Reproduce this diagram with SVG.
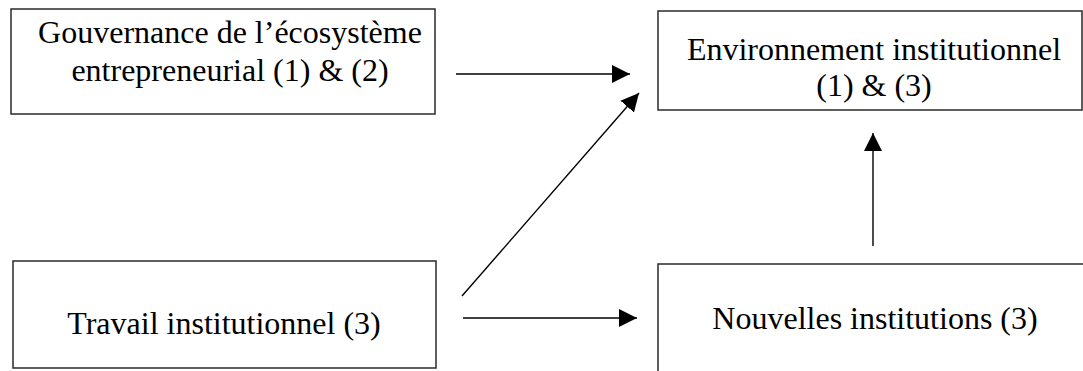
<svg xmlns="http://www.w3.org/2000/svg" width="1083" height="371" viewBox="0 0 1083 371">
  <style>
    .box { fill: #ffffff; stroke: #2a2a2a; stroke-width: 1.5; }
    .lbl { font-family: "Liberation Serif", "Times New Roman", serif; font-size: 32px; fill: #000; text-anchor: middle; }
    .edge { stroke: #000; stroke-width: 1.4; fill: none; marker-end: url(#arrow); }
  </style>
  <defs>
    <marker id="arrow" markerUnits="userSpaceOnUse" markerWidth="18" markerHeight="18" viewBox="0 0 16 16" refX="16" refY="8" orient="auto">
      <path d="M0,0 L16,8 L0,16 Z" fill="#000"/>
    </marker>
  </defs>
  <rect width="1083" height="371" fill="#ffffff"/>
  <g id="node-gouvernance">
    <rect class="box" x="11" y="9" width="424" height="105"/>
    <text class="lbl"><tspan x="230" y="43">Gouvernance de l’écosystème</tspan><tspan x="230" y="81">entrepreneurial (1) &amp; (2)</tspan></text>
  </g>
  <g id="node-environnement">
    <rect class="box" x="658" y="11" width="424" height="99"/>
    <text class="lbl"><tspan x="874" y="60">Environnement institutionnel</tspan><tspan x="874" y="96">(1) &amp; (3)</tspan></text>
  </g>
  <g id="node-travail">
    <rect class="box" x="13" y="261" width="423" height="107"/>
    <text class="lbl" x="224" y="334">Travail institutionnel (3)</text>
  </g>
  <g id="node-nouvelles">
    <rect class="box" x="658" y="264" width="432" height="120"/>
    <text class="lbl" x="875" y="329">Nouvelles institutions (3)</text>
  </g>
  <g id="connectors">
    <line class="edge" x1="456" y1="74" x2="630" y2="74"/>
    <line class="edge" x1="462" y1="296" x2="639" y2="93"/>
    <line class="edge" x1="463" y1="318" x2="637" y2="318"/>
    <line class="edge" x1="873" y1="246" x2="873" y2="133"/>
  </g>
</svg>
